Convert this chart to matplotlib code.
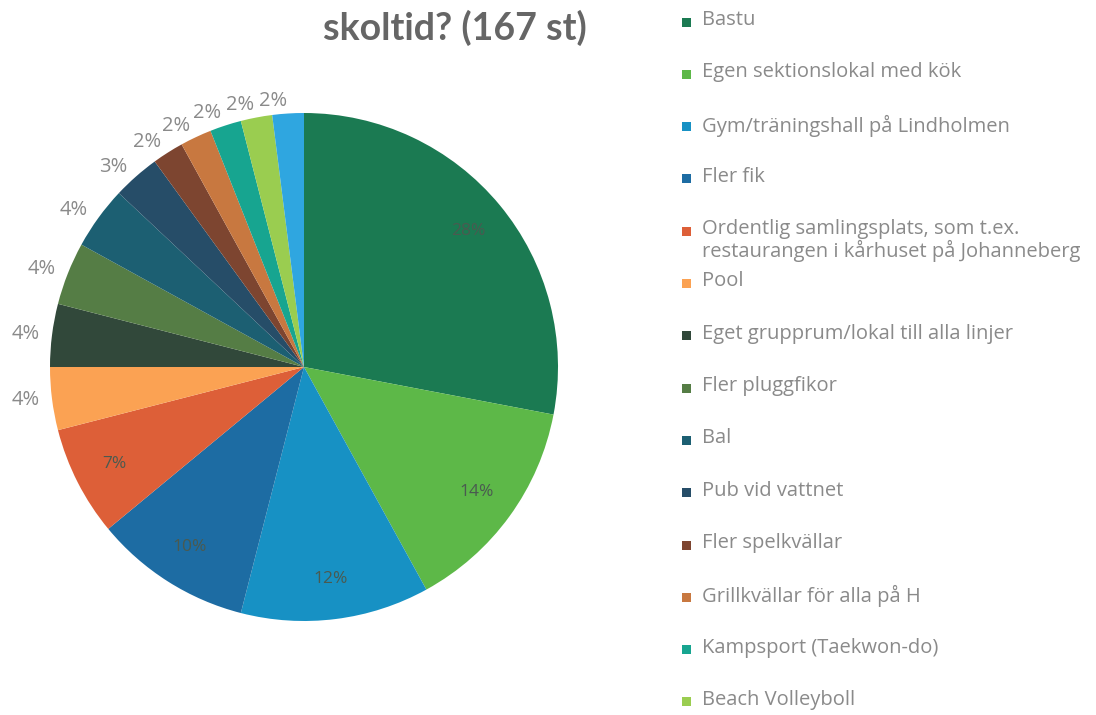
import matplotlib
matplotlib.use("Agg")
import matplotlib.pyplot as plt
from matplotlib.patches import Rectangle

categories = [
    "Bastu",
    "Egen sektionslokal med kök",
    "Gym/träningshall på Lindholmen",
    "Fler fik",
    "Ordentlig samlingsplats, som t.ex.\nrestaurangen i kårhuset på Johanneberg",
    "Pool",
    "Eget grupprum/lokal till alla linjer",
    "Fler pluggfikor",
    "Bal",
    "Pub vid vattnet",
    "Fler spelkvällar",
    "Grillkvällar för alla på H",
    "Kampsport (Taekwon-do)",
    "Beach Volleyboll",
    "Övrigt",
]
values = [28, 14, 12, 10, 7, 4, 4, 4, 4, 3, 2, 2, 2, 2, 2]
colors = ["#1b7a52", "#5db848", "#1791c4", "#1d6ca3", "#dd5f38", "#fba253",
          "#31483a", "#557d45", "#1c5f72", "#264d68", "#7d4530", "#c87840",
          "#17a590", "#9acd50", "#2fa6e0"]
title = "skoltid? (167 st)"
legend_count = 14

fig = plt.figure(figsize=(10.96, 7.15), dpi=100)
fig.patch.set_facecolor("white")

W, H = 1096, 715
cx, cy, r = 304, 367, 254
lim = 1.1
ax = fig.add_axes([(cx - lim * r) / W, (H - cy - lim * r) / H,
                   2 * lim * r / W, 2 * lim * r / H])

outer_labels = [f"{v}%" if v < 5 else "" for v in values]
wedges, texts, autotexts = ax.pie(
    values, colors=colors, startangle=90, counterclock=False,
    labels=outer_labels, labeldistance=1.05,
    autopct=lambda p: f"{p:.0f}%" if p > 5 else "", pctdistance=0.84,
    wedgeprops=dict(linewidth=0),
    textprops=dict(fontsize=12, family="Open Sans"))
for t in texts:
    t.set_color("#8a8a8a")
    t.set_fontsize(14.5)
for t in autotexts:
    t.set_color("#4a5a50")
    t.set_fontsize(12.5)
ax.set_xlim(-lim, lim)
ax.set_ylim(-lim, lim)
ax.axis("off")

fig.text(455 / W, 1 - 40 / H, title, ha="center", va="baseline",
         fontsize=27, fontweight="bold", color="#666666", family="Lato")

# legend
step = 52.3
y0 = 22
for i in range(legend_count):
    y = y0 + i * step
    fig.patches.append(Rectangle((681.5 / W, 1 - (y + 4.5) / H), 9 / W, 9 / H,
                                 transform=fig.transFigure, color=colors[i],
                                 linewidth=0))
    fig.text(702 / W, 1 - (y - 12) / H, categories[i], ha="left", va="top",
             fontsize=14.5, color="#8a8a8a", family="Open Sans",
             linespacing=1.05)

fig.savefig("out.png", dpi=100, facecolor="white")
